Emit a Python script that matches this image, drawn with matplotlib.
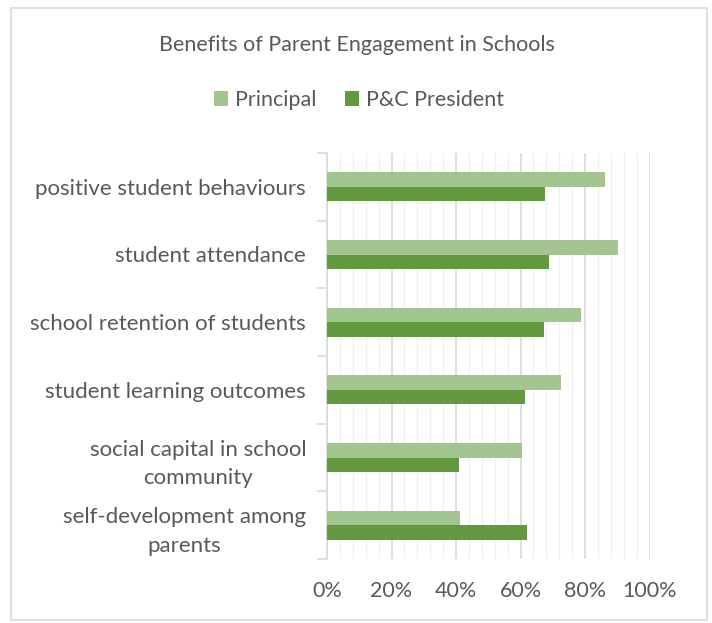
import numpy as np
import matplotlib.pyplot as plt
from matplotlib.patches import Rectangle
from matplotlib.ticker import MultipleLocator, PercentFormatter

categories = [
    "positive student behaviours",
    "student attendance",
    "school retention of students",
    "student learning outcomes",
    "social capital in school\ncommunity",
    "self-development among\nparents",
]
principal = [86.3, 90.1, 78.7, 72.5, 60.4, 41.2]
pc_president = [67.7, 68.7, 67.4, 61.5, 40.9, 62.1]

light_green = "#A3C58F"
dark_green = "#62993E"
text_grey = "#595959"

plt.rcParams["font.family"] = ["Lato", "DejaVu Sans"]

fig = plt.figure(figsize=(7.12, 6.23), dpi=100)
ax = fig.add_axes([327 / 712, 1 - 559 / 623, 322.5 / 712, 406 / 623])

y = np.arange(len(categories))
h = 0.212
ax.barh(y - h / 2, principal, height=h, color=light_green, label="Principal", zorder=3)
ax.barh(y + h / 2, pc_president, height=h, color=dark_green, label="P&C President", zorder=3)

ax.set_ylim(len(categories) - 0.5, -0.5)
ax.set_xlim(0, 100)

# grid: major every 20%, minor every 4%
ax.xaxis.set_major_locator(MultipleLocator(20))
ax.xaxis.set_minor_locator(MultipleLocator(4))
ax.xaxis.set_major_formatter(PercentFormatter(decimals=0))
ax.grid(axis="x", which="major", color="#D9D9D9", linewidth=1.2, zorder=0)
ax.grid(axis="x", which="minor", color="#F0F0F0", linewidth=1.0, zorder=0)
ax.tick_params(axis="x", which="both", length=0, labelsize=15.5, labelcolor=text_grey, pad=16)

# category labels centred on bars, tick marks on band boundaries
ax.set_yticks(y)
ax.set_yticklabels(categories, fontsize=16, color=text_grey, ha="right",
                   multialignment="center", linespacing=1.55)
ax.tick_params(axis="y", which="major", length=0, pad=15)
ax.set_yticks(np.arange(len(categories) + 1) - 0.5, minor=True)
ax.tick_params(axis="y", which="minor", length=7, color="#D9D9D9", width=1.2)

for side in ["top", "right", "bottom"]:
    ax.spines[side].set_visible(False)
ax.spines["left"].set_color("#D9D9D9")
ax.spines["left"].set_linewidth(1.2)

fig.text(357 / 712, 1 - 45 / 623, "Benefits of Parent Engagement in Schools",
         ha="center", va="center", fontsize=15.5, color=text_grey)

fig.legend(loc="center", bbox_to_anchor=(359 / 712, 1 - 100 / 623), ncol=2, frameon=False,
           fontsize=15.5, labelcolor=text_grey, handlelength=0.65, handleheight=0.65,
           handletextpad=0.3, columnspacing=1.35)

# outer chart border
fig.patches.append(Rectangle((11 / 712, 1 - 620 / 623), 696 / 712, 612 / 623,
                             transform=fig.transFigure, fill=False,
                             edgecolor="#D9D9D9", linewidth=1.2))

fig.savefig("out.png", dpi=100)
